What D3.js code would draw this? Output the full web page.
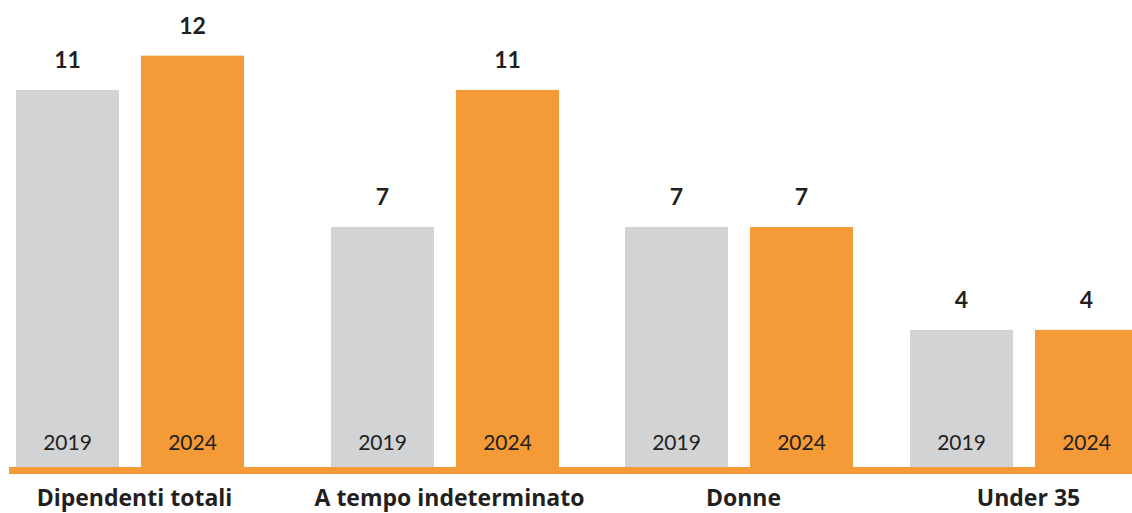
<!DOCTYPE html>
<html>
<head>
<meta charset="utf-8">
<script src="https://cdn.jsdelivr.net/npm/d3@7"></script>
<style>
  body { margin: 0; background: #fff; }
  svg { display: block; font-family: "Lato", "Noto Sans", sans-serif; }
</style>
</head>
<body>
<div id="chart"></div>
<script>
// data
var categories = ["Dipendenti totali", "A tempo indeterminato", "Donne", "Under 35"];
var years = ["2019", "2024"];
var values2019 = [11, 7, 7, 4];
var values2024 = [12, 11, 7, 4];

var width = 1132, height = 513,
    baseY = 467;

var colors = d3.scaleOrdinal().domain(years).range(["#d1d3d4", "#f49a36"]);

var svg = d3.select("#chart").append("svg")
  .attr("width", width)
  .attr("height", height);

// group positions (groups are not evenly spaced in the original)
var x0 = d3.scaleOrdinal().domain(categories).range([16, 331, 625, 910]);
var x1 = d3.scaleBand().domain(years).range([0, 228]).paddingInner(0.176).paddingOuter(0);

var y = d3.scaleLinear().domain([0, 12]).range([baseY, baseY - 12 * 34.28]);

var rows = categories.map(function(c, i) {
  return { cat: c, vals: [{ year: "2019", v: values2019[i] }, { year: "2024", v: values2024[i] }] };
});

var g = svg.selectAll("g.grp")
  .data(rows)
  .enter().append("g")
  .attr("class", "grp")
  .attr("transform", function(d) { return "translate(" + x0(d.cat) + ",0)"; });

var bar = g.selectAll("g.bar")
  .data(function(d) { return d.vals; })
  .enter().append("g")
  .attr("class", "bar");

bar.append("rect")
  .attr("x", function(d) { return x1(d.year); })
  .attr("y", function(d) { return y(d.v); })
  .attr("width", x1.bandwidth())
  .attr("height", function(d) { return baseY - y(d.v); })
  .attr("fill", function(d) { return colors(d.year); });

// value labels
bar.append("text")
  .attr("x", function(d) { return x1(d.year) + x1.bandwidth() / 2; })
  .attr("y", function(d) { return y(d.v) - 22; })
  .attr("text-anchor", "middle")
  .attr("font-size", "23px")
  .attr("font-weight", "bold")
  .attr("fill", "#231f20")
  .text(function(d) { return d.v; });

// year labels inside bars
bar.append("text")
  .attr("x", function(d) { return x1(d.year) + x1.bandwidth() / 2; })
  .attr("y", 450)
  .attr("text-anchor", "middle")
  .attr("font-size", "21px")
  .attr("fill", "#231f20")
  .text(function(d) { return d.year; });

// baseline
svg.append("rect")
  .attr("x", 9)
  .attr("y", baseY)
  .attr("width", width - 9)
  .attr("height", 7)
  .attr("fill", "#f49a36");

// category labels
g.append("text")
  .attr("x", x1.range()[1] / 2 + 4.5)
  .attr("y", 506)
  .attr("text-anchor", "middle")
  .attr("font-family", "'Open Sans', sans-serif")
  .attr("font-size", "23px")
  .attr("font-weight", "bold")
  .attr("fill", "#231f20")
  .text(function(d) { return d.cat; });
</script>
</body>
</html>
